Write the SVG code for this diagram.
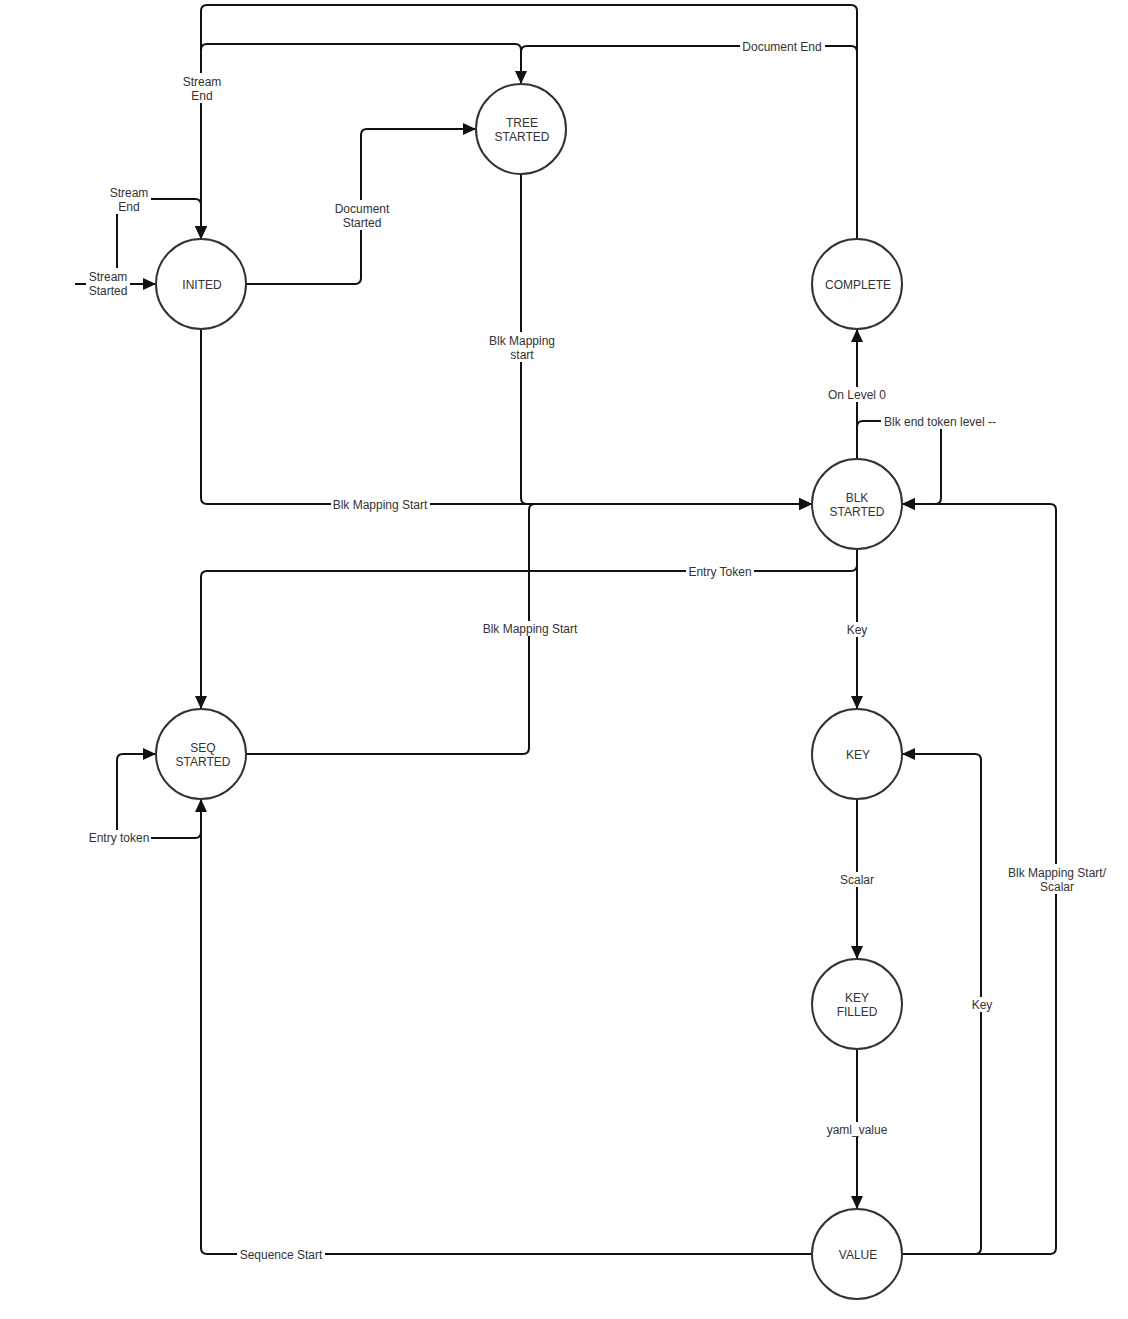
<svg xmlns="http://www.w3.org/2000/svg" width="1128" height="1319" viewBox="0 0 1128 1319">
<defs>
<style>
.node circle{fill:#fff;stroke:#333;stroke-width:2}
.node text,.lbl text{font-family:"Liberation Sans",Arial,sans-serif;font-size:12px;fill:#333;text-anchor:middle}
.edge{fill:none;stroke:#111;stroke-width:2}
.lbl rect{fill:#fff}
</style>
<marker id="arr" viewBox="0 0 13 13" refX="13" refY="6.5" markerWidth="13" markerHeight="13" markerUnits="userSpaceOnUse" orient="auto">
<path d="M0,0.5 L13,6.5 L0,12.5 z" fill="#111"/>
</marker>
</defs>
<rect width="1128" height="1319" fill="#fff"/>
<g id="connectors">
<path class="edge" d="M75,284 H156" marker-end="url(#arr)"/>
<path class="edge" d="M117,284 V199 H195 Q201,199 201,205 V239" marker-end="url(#arr)"/>
<path class="edge" d="M857,239 V11 Q857,5 851,5 H207 Q201,5 201,11 V239" marker-end="url(#arr)"/>
<path class="edge" d="M521,84 V50 Q521,44 515,44 H207 Q201,44 201,50 V239" marker-end="url(#arr)"/>
<path class="edge" d="M857,239 V52 Q857,46 851,46 H527 Q521,46 521,52 V84" marker-end="url(#arr)"/>
<path class="edge" d="M246,284 H355 Q361,284 361,278 V135 Q361,129 367,129 H476" marker-end="url(#arr)"/>
<path class="edge" d="M521,174 V498 Q521,504 527,504 H812" marker-end="url(#arr)"/>
<path class="edge" d="M201,329 V498 Q201,504 207,504 H812" marker-end="url(#arr)"/>
<path class="edge" d="M246,754 H523 Q529,754 529,748 V510 Q529,504 535,504 H812" marker-end="url(#arr)"/>
<path class="edge" d="M857,549 V565 Q857,571 851,571 H207 Q201,571 201,577 V709" marker-end="url(#arr)"/>
<path class="edge" d="M201,826 V832 Q201,838 195,838 H123 Q117,838 117,832 V760 Q117,754 123,754 H156" marker-end="url(#arr)"/>
<path class="edge" d="M812,1254 H207 Q201,1254 201,1248 V799" marker-end="url(#arr)"/>
<path class="edge" d="M857,459 V329" marker-end="url(#arr)"/>
<path class="edge" d="M857,459 V427 Q857,421 863,421 H935 Q941,421 941,427 V498 Q941,504 935,504 H902" marker-end="url(#arr)"/>
<path class="edge" d="M902,1254 H1050 Q1056,1254 1056,1248 V510 Q1056,504 1050,504 H902" marker-end="url(#arr)"/>
<path class="edge" d="M902,1254 H975 Q981,1254 981,1248 V760 Q981,754 975,754 H902" marker-end="url(#arr)"/>
<path class="edge" d="M857,549 V709" marker-end="url(#arr)"/>
<path class="edge" d="M857,799 V959" marker-end="url(#arr)"/>
<path class="edge" d="M857,1049 V1209" marker-end="url(#arr)"/>
</g>
<g id="labels" class="lbl">
<rect x="86" y="268" width="44" height="30"/><text x="108" y="281">Stream</text><text x="108" y="295">Started</text>
<rect x="108" y="184" width="43" height="30"/><text x="129" y="197">Stream</text><text x="129" y="211">End</text>
<rect x="181" y="73" width="43" height="30"/><text x="202" y="86">Stream</text><text x="202" y="100">End</text>
<rect x="740" y="39" width="85" height="15"/><text x="782" y="51">Document End</text>
<rect x="333" y="200" width="58" height="30"/><text x="362" y="213">Document</text><text x="362" y="227">Started</text>
<rect x="487" y="332" width="70" height="30"/><text x="522" y="345">Blk Mapping</text><text x="522" y="359">start</text>
<rect x="331" y="497" width="99" height="15"/><text x="380" y="509">Blk Mapping Start</text>
<rect x="481" y="621" width="99" height="15"/><text x="530" y="633">Blk Mapping Start</text>
<rect x="686" y="564" width="68" height="15"/><text x="720" y="576">Entry Token</text>
<rect x="87" y="830" width="64" height="15"/><text x="119" y="842">Entry token</text>
<rect x="237" y="1247" width="88" height="15"/><text x="281" y="1259">Sequence Start</text>
<rect x="826" y="387" width="62" height="15"/><text x="857" y="399">On Level 0</text>
<rect x="881" y="414" width="118" height="15"/><text x="940" y="426">Blk end token level --</text>
<rect x="1006" y="864" width="103" height="30"/><text x="1057" y="877">Blk Mapping Start/</text><text x="1057" y="891">Scalar</text>
<rect x="970" y="997" width="24" height="15"/><text x="982" y="1009">Key</text>
<rect x="845" y="622" width="24" height="15"/><text x="857" y="634">Key</text>
<rect x="838" y="872" width="38" height="15"/><text x="857" y="884">Scalar</text>
<rect x="824" y="1122" width="66" height="15"/><text x="857" y="1134">yaml_value</text>
</g>
<g id="inited" class="node"><circle cx="201" cy="284" r="45"/><text x="202" y="289">INITED</text></g>
<g id="tree_started" class="node"><circle cx="521" cy="129" r="45"/><text x="522" y="127">TREE</text><text x="522" y="141">STARTED</text></g>
<g id="complete" class="node"><circle cx="857" cy="284" r="45"/><text x="858" y="289">COMPLETE</text></g>
<g id="blk_started" class="node"><circle cx="857" cy="504" r="45"/><text x="857" y="502">BLK</text><text x="857" y="516">STARTED</text></g>
<g id="seq_started" class="node"><circle cx="201" cy="754" r="45"/><text x="203" y="752">SEQ</text><text x="203" y="766">STARTED</text></g>
<g id="key" class="node"><circle cx="857" cy="754" r="45"/><text x="858" y="759">KEY</text></g>
<g id="key_filled" class="node"><circle cx="857" cy="1004" r="45"/><text x="857" y="1002">KEY</text><text x="857" y="1016">FILLED</text></g>
<g id="value" class="node"><circle cx="857" cy="1254" r="45"/><text x="858" y="1259">VALUE</text></g>
</svg>
